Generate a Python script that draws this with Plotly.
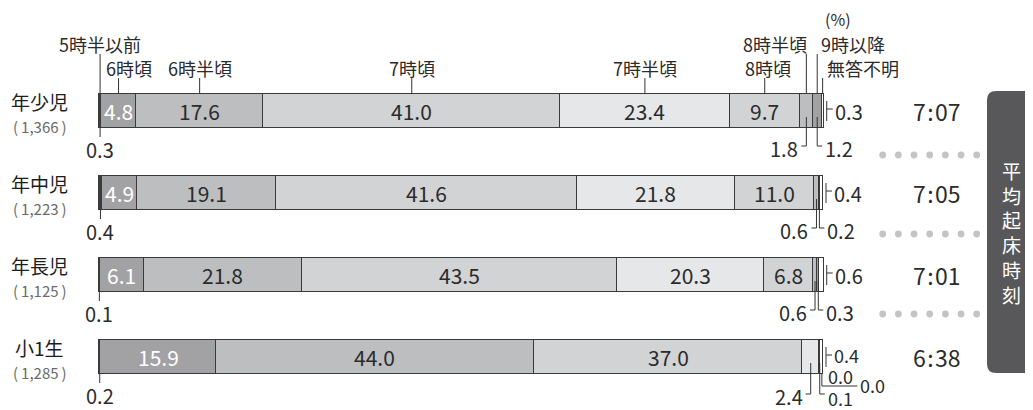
import plotly.graph_objects as go

# ---------------- data ----------------
groups = ["年少児", "年中児", "年長児", "小1生"]
group_n = ["(\u20091,366\u2009)", "(\u20091,223\u2009)", "(\u20091,125\u2009)", "(\u20091,285\u2009)"]
avg_wake = ["7:07", "7:05", "7:01", "6:38"]
categories = ["5時半以前", "6時頃", "6時半頃", "7時頃", "7時半頃",
              "8時頃", "8時半頃", "9時以降", "無答不明"]

v_before_0530 = [0.3, 0.4, 0.1, 0.2]
v_0600 = [4.8, 4.9, 6.1, 15.9]
v_0630 = [17.6, 19.1, 21.8, 44.0]
v_0700 = [41.0, 41.6, 43.5, 37.0]
v_0730 = [23.4, 21.8, 20.3, 2.4]
v_0800 = [9.7, 11.0, 6.8, 0.0]
v_0830 = [1.8, 0.6, 0.6, 0.0]
v_after_0900 = [1.2, 0.2, 0.3, 0.1]
v_no_answer = [0.3, 0.4, 0.6, 0.4]

series = [v_before_0530, v_0600, v_0630, v_0700, v_0730,
          v_0800, v_0830, v_after_0900, v_no_answer]

# ---------------- styling / geometry ----------------
W, H = 1033, 410
OFF = 8               # page body margin of the html page
X0_PX = 99.0          # screen pixel of 0 %
PX_PER_PCT = 7.24
ROW0_PX = 111.0       # screen pixel centre of first bar
ROW_PX = 82.0
BAR_PX = 34.0
FONT = "Noto Sans CJK JP"
TXT = "#2b2b2b"
LINE = "#333333"

colors = ["#3c3c3c", "#a2a2a4", "#bdbec0", "#d2d3d5", "#e6e7e8",
          "#d2d3d5", "#bdbec0", "#a2a2a4", "#ffffff"]


def X(px):
    return (px - X0_PX) / PX_PER_PCT


def Y(py):
    return (py - ROW0_PX) / ROW_PX


rows = list(range(len(groups)))

fig = go.Figure()
for ci, vals in enumerate(series):
    fig.add_trace(go.Bar(
        y=rows, x=vals, orientation="h", name=categories[ci],
        width=BAR_PX / ROW_PX,
        marker=dict(color=colors[ci], line=dict(color="#3a3a3a", width=1.2)),
        hoverinfo="skip", showlegend=False,
    ))

annotations = []
shapes = []


def text(x, y, s, size=20, color=TXT, xanchor="center", yanchor="middle"):
    annotations.append(dict(x=x, y=y, xref="x", yref="y", text=s, showarrow=False,
                            xanchor=xanchor, yanchor=yanchor, borderpad=0,
                            font=dict(family=FONT, size=size, color=color)))


def seg(x0, y0, x1, y1, color=LINE, width=1):
    shapes.append(dict(type="line", xref="x", yref="y", x0=x0, y0=y0, x1=x1, y1=y1,
                       line=dict(color=color, width=width)))


# cumulative positions
cum = []
for r in rows:
    c = [0.0]
    for ci in range(len(series)):
        c.append(c[-1] + series[ci][r])
    cum.append(c)


def seg_center(r, ci):
    return cum[r][ci] + series[ci][r] / 2.0


# inside labels
for r in rows:
    for ci in range(1, 6):
        v = series[ci][r]
        if v >= 4:
            text(seg_center(r, ci), r, f"{v:.1f}", size=21,
                 color="#ffffff" if ci == 1 else TXT)

# outside labels
dx = 1.0 / PX_PER_PCT
dy = 1.0 / ROW_PX
half = BAR_PX / 2 * dy
outside = [
    [(0, "below_c"), (6, "below_l"), (7, "below_r"), (8, "right")],
    [(0, "below_c"), (6, "below_l"), (7, "below_r"), (8, "right")],
    [(0, "below_c"), (6, "below_l"), (7, "below_r"), (8, "right")],
    [(0, "below_c"), (4, "below_l"), (5, "u_first"), (6, "u_second"),
     (7, "below_r"), (8, "right")],
]
for r in rows:
    by = r + half
    last = r == len(rows) - 1
    extra = 2 * dy if last else 0
    fs = 18 if last else 20
    for ci, style in outside[r]:
        s = f"{series[ci][r]:.1f}"
        sx = seg_center(r, ci)
        if style == "below_c":
            seg(sx, by, sx, by + 9 * dy)
            text(sx, by + 21 * dy, s)
        elif style == "below_l":
            yb = by + 18 * dy + extra
            seg(sx, r + 6 * dy, sx, yb)
            seg(sx, yb, sx - 5 * dx, yb)
            text(sx - 7 * dx, yb + 2 * dy, s, size=20, xanchor="right")
        elif style == "below_r":
            yb = by + 18 * dy + extra
            seg(sx, r + 6 * dy, sx, yb)
            seg(sx, yb, sx + 5 * dx, yb)
            text(sx + 7 * dx, yb + (4 if last else 2) * dy, s, size=fs, xanchor="left")
        elif style == "right":
            ex = cum[r][-1]
            seg(ex + 3 * dx, r - 10 * dy, ex + 3 * dx, r + 10 * dy)
            seg(ex + 3 * dx, r - 2 * dy, ex + 9 * dx, r - 2 * dy)
            text(ex + 10 * dx, r - (2 if last else 0) * dy, s, size=fs, xanchor="left")
        elif style == "u_first":
            xl = sx + 2.5 * dx
            seg(xl, by, xl, by + 12 * dy)
            seg(xl, by + 12 * dy, sx + 38 * dx, by + 12 * dy)
            text(sx + 8 * dx, by + 2 * dy, s, size=fs, xanchor="left")
        elif style == "u_second":
            text(sx + 40 * dx, by + 11 * dy, s, size=fs, xanchor="left")

# category header labels over the first bar
header = {0: (0, 44, 54), 1: (10, 68, 78), 2: (0, 68, 78), 3: (0, 68, 78),
          4: (0, 68, 78), 5: (3, 68, 78), 6: (-31, 44, 54), 7: (36, 44, 54),
          8: (40, 68, 78)}
for ci, (ox, ty, top) in header.items():
    sx = seg_center(0, ci)
    seg(sx, Y(top), sx, -half)
    text(sx + ox * dx, Y(ty), categories[ci], size=18)
text(X(838), Y(19), "(%)", size=16)

# row labels and average times
for r in rows:
    text(X(39), r - 10 * dy, groups[r], size=19, color="#1e1e1e")
    text(X(40), r + 15 * dy, group_n[r], size=15, color="#6b6b6b")
    text(X(937), r, avg_wake[r].replace(":", "\u200a:\u200a"), size=23, color=TXT)

# dotted separators
for py in (155, 234, 314):
    for k in range(7):
        cx = 882.7 + k * 15.67
        shapes.append(dict(type="circle", xref="x", yref="y",
                           x0=X(cx - 3.4), x1=X(cx + 3.4), y0=Y(py - 3.4), y1=Y(py + 3.4),
                           fillcolor="#c4c4c6", line=dict(width=0)))

# side box
bx0, bx1, by0, by1, rad = 987, 1050, 91, 373, 9
path = (f"M {X(bx1)},{Y(by0)} L {X(bx0 + rad)},{Y(by0)} "
        f"Q {X(bx0)},{Y(by0)} {X(bx0)},{Y(by0 + rad)} "
        f"L {X(bx0)},{Y(by1 - rad)} Q {X(bx0)},{Y(by1)} {X(bx0 + rad)},{Y(by1)} "
        f"L {X(bx1)},{Y(by1)} Z")
shapes.append(dict(type="path", xref="x", yref="y", path=path,
                   fillcolor="#58585a", line=dict(width=0), layer="below"))
text(X(1011), Y(232), "<br>".join("平均起床時刻"), size=19, color="#ffffff")

fig.update_layout(
    barmode="stack",
    width=W, height=H,
    margin=dict(l=0, r=0, t=0, b=0),
    paper_bgcolor="white", plot_bgcolor="white",
    xaxis=dict(range=[X(OFF), X(OFF + W)], visible=False, fixedrange=True),
    yaxis=dict(range=[Y(OFF + H), Y(OFF)], visible=False, fixedrange=True),
    annotations=annotations, shapes=shapes,
    bargap=0, hovermode=False,
)
fig.write_html("out.html", config={"displayModeBar": False})
